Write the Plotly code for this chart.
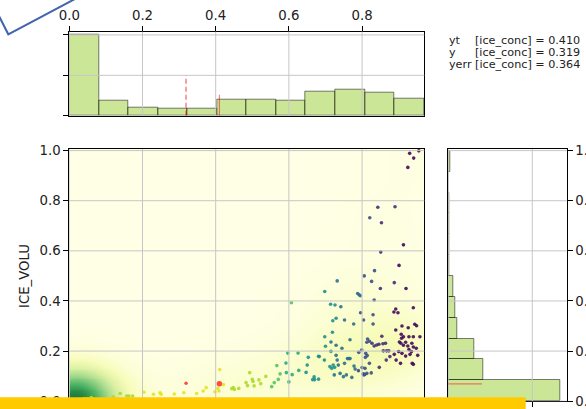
import numpy as np
import plotly.graph_objects as go

W, H = 586, 409
FONT = "DejaVu Sans"

# ---------------- data ----------------
# main scatter, grouped by the colour (ice_conc, ice_volu)
grp_lime_left_x = [0.120, 0.139, 0.157, 0.163, 0.173]
grp_lime_left_y = [0.018, 0.031, 0.021, 0.021, 0.021]

grp_yellow_x = [0.204, 0.230, 0.248, 0.251, 0.287, 0.313, 0.348, 0.366, 0.374, 0.398, 0.406, 0.409, 0.411, 0.421]
grp_yellow_y = [0.036, 0.028, 0.034, 0.028, 0.029, 0.034, 0.031, 0.041, 0.054, 0.038, 0.051, 0.041, 0.126, 0.066]

grp_lime_x = [0.444, 0.448, 0.451, 0.463, 0.483, 0.487, 0.493, 0.500, 0.502, 0.505, 0.518, 0.523, 0.537]
grp_lime_y = [0.050, 0.054, 0.047, 0.051, 0.074, 0.062, 0.114, 0.087, 0.079, 0.061, 0.085, 0.070, 0.099]

grp_green_x = [0.553, 0.560, 0.567, 0.571, 0.576, 0.607]
grp_green_y = [0.058, 0.074, 0.142, 0.087, 0.109, 0.393]

grp_tealgreen_x = [0.592, 0.593, 0.597, 0.600, 0.609, 0.625, 0.627]
grp_tealgreen_y = [0.152, 0.114, 0.192, 0.077, 0.106, 0.192, 0.123]

grp_teal_x = [0.647, 0.650, 0.653, 0.665, 0.669, 0.670, 0.681, 0.681, 0.683, 0.697, 0.698, 0.698,
              0.700, 0.719, 0.712, 0.717, 0.721, 0.725, 0.715, 0.714, 0.726, 0.720, 0.729]
grp_teal_y = [0.115, 0.144, 0.175, 0.086, 0.097, 0.086, 0.179, 0.088, 0.178, 0.164, 0.438, 0.257,
              0.219, 0.275, 0.138, 0.131, 0.144, 0.135, 0.199, 0.387, 0.384, 0.321, 0.331]

grp_blue_x = [0.742, 0.732, 0.752, 0.729, 0.732, 0.715, 0.729, 0.745, 0.735, 0.724, 0.740, 0.752,
              0.760, 0.764, 0.767, 0.757, 0.749, 0.767, 0.777, 0.778, 0.781, 0.772, 0.788, 0.792, 0.795]
grp_blue_y = [0.377, 0.480, 0.324, 0.183, 0.164, 0.236, 0.223, 0.211, 0.144, 0.105, 0.111, 0.151,
              0.170, 0.170, 0.170, 0.105, 0.098, 0.245, 0.308, 0.140, 0.128, 0.095, 0.430, 0.425, 0.421]

grp_indigo_x = [0.790, 0.800, 0.803, 0.807, 0.791, 0.799, 0.796, 0.804, 0.806, 0.810, 0.814, 0.809, 0.815,
                0.813, 0.820, 0.820, 0.808, 0.813, 0.805, 0.825, 0.821, 0.826, 0.834, 0.833, 0.830, 0.830]
grp_indigo_y = [0.122, 0.134, 0.109, 0.107, 0.195, 0.204, 0.353, 0.324, 0.500, 0.191, 0.182, 0.175, 0.248,
                0.235, 0.239, 0.151, 0.131, 0.111, 0.105, 0.113, 0.732, 0.478, 0.521, 0.404, 0.345, 0.308]

grp_purple_x = [0.843, 0.853, 0.851, 0.850, 0.854, 0.827, 0.833, 0.840, 0.846, 0.857, 0.864, 0.858,
                0.867, 0.873, 0.866, 0.876, 0.847, 0.888, 0.890]
grp_purple_y = [0.774, 0.712, 0.595, 0.450, 0.259, 0.231, 0.220, 0.224, 0.227, 0.229, 0.231, 0.201,
                0.201, 0.201, 0.164, 0.178, 0.135, 0.473, 0.776]

grp_dark_x = [0.930, 0.955, 0.941, 0.925, 0.913, 0.901, 0.920, 0.940, 0.892, 0.887, 0.898, 0.944, 0.949,
              0.909, 0.926, 0.892, 0.907, 0.908, 0.913, 0.928, 0.940, 0.958, 0.902, 0.906, 0.913, 0.919,
              0.925, 0.936, 0.940, 0.948, 0.928, 0.935, 0.900, 0.909, 0.919, 0.931, 0.952, 0.893, 0.888,
              0.937, 0.940, 0.905]
grp_dark_y = [0.989, 0.999, 0.970, 0.933, 0.624, 0.542, 0.450, 0.373, 0.368, 0.356, 0.353, 0.307, 0.301,
              0.300, 0.293, 0.284, 0.267, 0.251, 0.257, 0.257, 0.257, 0.257, 0.236, 0.231, 0.223, 0.235,
              0.220, 0.231, 0.216, 0.211, 0.206, 0.198, 0.198, 0.191, 0.180, 0.187, 0.183, 0.164, 0.187,
              0.151, 0.147, 0.151]

# dense cluster at the origin (hidden under the bottom band), with counts
origin_x = [0.000, 0.010, 0.020, 0.030, 0.040, 0.050, 0.060]
origin_y = [0.000, 0.000, 0.005, 0.005, 0.010, 0.010, 0.015]
origin_w = [150, 40, 30, 25, 20, 15, 10]

# highlighted samples: y and yt
red_x = [0.319, 0.410]
red_y = [0.072, 0.070]
red_size = [3.5, 5.5]

# marginal histograms (density)
top_hist_range = [0.0, 0.969]
top_hist_vals = [3.99, 0.73, 0.42, 0.37, 0.37, 0.77, 0.77, 0.72, 1.17, 1.31, 1.16, 0.86]
right_hist_range = [0.0, 0.999]
right_hist_vals = [6.65, 2.08, 1.53, 0.54, 0.42, 0.30, 0.07, 0.06, 0.05, 0.05, 0.0, 0.09]

yt_conc, y_conc, yerr_conc = 0.410, 0.319, 0.364
yt_volu = 0.069

x_ticks = [0.0, 0.2, 0.4, 0.6, 0.8]
y_ticks = [0.0, 0.2, 0.4, 0.6, 0.8, 1.0]
top_y_ticks = [0, 2, 4]
right_x_ticks = [0, 5]

groups = [
    (grp_lime_left_x, grp_lime_left_y, "#a8d83a"),
    (grp_yellow_x, grp_yellow_y, "#e6e31f"),
    (grp_lime_x, grp_lime_y, "#afd92e"),
    (grp_green_x, grp_green_y, "#58c463"),
    (grp_tealgreen_x, grp_tealgreen_y, "#2aaa83"),
    (grp_teal_x, grp_teal_y, "#22908c"),
    (grp_blue_x, grp_blue_y, "#2b6f8e"),
    (grp_indigo_x, grp_indigo_y, "#3b4f8a"),
    (grp_purple_x, grp_purple_y, "#472c7a"),
    (grp_dark_x, grp_dark_y, "#45095d"),
]

# ---------------- layout geometry (pixels -> paper) ----------------
def px_x(p):
    return p / W

def px_y(p):
    return 1 - p / H

X_MAX = 0.970
Y_MAX = 1.0064

dom_x_main = [px_x(69.3), px_x(424.3)]
dom_y_main = [px_y(401.2), px_y(149.0)]
dom_y_top = [px_y(115.7), px_y(31.7)]
dom_x_right = [px_x(448.3), px_x(566.7)]

fig = go.Figure()

# --- KDE background from the points ---
all_x, all_y, all_w = list(origin_x), list(origin_y), list(origin_w)
for gx_, gy_, _ in groups:
    all_x += gx_
    all_y += gy_
    all_w += [1] * len(gx_)
gx = np.linspace(0, X_MAX, 140)
gy = np.linspace(0, Y_MAX, 140)
GX, GY = np.meshgrid(gx, gy)
Z = np.zeros_like(GX)
hx, hy = 0.075, 0.085
for a, b, w in zip(all_x, all_y, all_w):
    Z += w * np.exp(-((GX - a) ** 2 / (2 * hx ** 2) + (GY - b) ** 2 / (2 * hy ** 2)))
fig.add_trace(go.Heatmap(x=gx, y=gy, z=Z, colorscale="YlGn", zmin=0, zmax=Z.max() * 1.25,
                         zsmooth="best", showscale=False, hoverinfo="skip",
                         xaxis="x", yaxis="y"))

fig.add_trace(go.Scatter(x=origin_x, y=origin_y, mode="markers",
                         marker=dict(size=3.5, color="#a8d83a"), xaxis="x", yaxis="y",
                         showlegend=False))
for gx_, gy_, col in groups:
    fig.add_trace(go.Scatter(x=gx_, y=gy_, mode="markers",
                             marker=dict(size=3.6, color=col, opacity=0.9, line=dict(width=0)),
                             xaxis="x", yaxis="y", showlegend=False))
fig.add_trace(go.Scatter(x=red_x, y=red_y, mode="markers",
                         marker=dict(size=red_size, color="#ff0000", line=dict(width=0)),
                         xaxis="x", yaxis="y", showlegend=False))

# --- marginal histograms ---
bar_fill = "rgba(154,205,50,0.5)"
bar_edge = "rgba(0,0,0,0.5)"
t_edges = np.linspace(top_hist_range[0], top_hist_range[1], len(top_hist_vals) + 1)
t_w = t_edges[1] - t_edges[0]
fig.add_trace(go.Bar(x=(t_edges[:-1] + t_edges[1:]) / 2, y=top_hist_vals, width=t_w,
                     marker=dict(color=bar_fill, line=dict(color=bar_edge, width=1)),
                     xaxis="x2", yaxis="y2", showlegend=False))
r_edges = np.linspace(right_hist_range[0], right_hist_range[1], len(right_hist_vals) + 1)
r_w = r_edges[1] - r_edges[0]
fig.add_trace(go.Bar(y=(r_edges[:-1] + r_edges[1:]) / 2, x=right_hist_vals, width=r_w,
                     orientation="h",
                     marker=dict(color=bar_fill, line=dict(color=bar_edge, width=1)),
                     xaxis="x3", yaxis="y3", showlegend=False))

# ---------------- shapes ----------------
shapes = []
GRID = dict(color="#c6c6c6", width=1)
for t in x_ticks:
    shapes.append(dict(type="line", xref="x", yref="y domain", x0=t, x1=t, y0=0, y1=1, line=GRID, layer="above"))
    shapes.append(dict(type="line", xref="x2", yref="y2 domain", x0=t, x1=t, y0=0, y1=1, line=GRID, layer="above"))
for t in y_ticks:
    shapes.append(dict(type="line", xref="x domain", yref="y", x0=0, x1=1, y0=t, y1=t, line=GRID, layer="above"))
    shapes.append(dict(type="line", xref="x3 domain", yref="y3", x0=0, x1=1, y0=t, y1=t, line=GRID, layer="above"))
for t in top_y_ticks:
    shapes.append(dict(type="line", xref="x2 domain", yref="y2", x0=0, x1=1, y0=t, y1=t, line=GRID, layer="above"))
for t in right_x_ticks:
    shapes.append(dict(type="line", xref="x3", yref="y3 domain", x0=t, x1=t, y0=0, y1=1, line=GRID, layer="above"))

# markers of y / yt in the marginals
shapes.append(dict(type="line", xref="x2", yref="y2 domain", x0=y_conc, x1=y_conc, y0=0, y1=0.48,
                   line=dict(color="rgba(255,0,0,0.5)", width=1.5, dash="5px,3px"), layer="above"))
shapes.append(dict(type="line", xref="x2", yref="y2 domain", x0=yt_conc, x1=yt_conc, y0=0, y1=0.25,
                   line=dict(color="rgba(255,0,0,0.6)", width=1), layer="above"))
shapes.append(dict(type="line", xref="x3 domain", yref="y3", x0=0, x1=0.285, y0=yt_volu, y1=yt_volu,
                   line=dict(color="rgba(255,0,0,0.6)", width=1), layer="above"))

# overlay decorations of the screenshot
shapes.append(dict(type="rect", xref="paper", yref="paper", x0=-0.01, x1=px_x(525.7), y0=-0.01, y1=px_y(397.3),
                   fillcolor="#ffcb00", line=dict(width=0), layer="above"))
shapes.append(dict(type="path", xref="paper", yref="paper",
                   path=f"M {px_x(-5)},{px_y(8.2)} L {px_x(8.3)},{px_y(34.3)} L {px_x(80)},{px_y(-3.7)}",
                   line=dict(color="#4263ad", width=2), layer="above"))

# ---------------- annotations ----------------
ann = [
    dict(text="ICE_VOLU", x=px_x(24), y=px_y(276), xref="paper", yref="paper", showarrow=False,
         textangle=-90, font=dict(family=FONT, size=13.3, color="#222"), xanchor="center", yanchor="middle"),
]
leg_font = dict(family=FONT, size=11.2, color="#222")
for i, (lab, val) in enumerate([("yt", yt_conc), ("y", y_conc)]):
    yy = px_y(40 + 12.2 * i)
    ann.append(dict(text=lab, x=px_x(447.3), y=yy, xref="paper", yref="paper", showarrow=False,
                    xanchor="left", yanchor="middle", font=leg_font))
    ann.append(dict(text=f"[ice_conc] = {val:.3f}", x=px_x(472.5), y=yy, xref="paper",
                    yref="paper", showarrow=False, xanchor="left", yanchor="middle", font=leg_font))
ann.append(dict(text=f"yerr [ice_conc] = {yerr_conc:.3f}", x=px_x(447.3), y=px_y(40 + 12.2 * 2),
                xref="paper", yref="paper", showarrow=False, xanchor="left", yanchor="middle",
                font=leg_font))

tickfont = dict(family=FONT, size=13.3, color="#222")
ax_common = dict(showgrid=False, zeroline=False, showline=True, mirror=True, linecolor="black",
                 linewidth=1, ticks="outside", ticklen=5, tickwidth=1, tickcolor="black",
                 tickfont=tickfont, automargin=False)

fig.update_layout(
    width=W, height=H, margin=dict(l=0, r=0, t=0, b=0),
    paper_bgcolor="white", plot_bgcolor="white", showlegend=False, bargap=0,
    font=dict(family=FONT),
    xaxis=dict(domain=dom_x_main, range=[0, X_MAX], anchor="y", tickvals=x_ticks,
               showticklabels=False, **ax_common),
    yaxis=dict(domain=dom_y_main, range=[0, Y_MAX], anchor="x", tickvals=y_ticks,
               ticktext=[f"{t:.1f}" for t in y_ticks], **ax_common),
    xaxis2=dict(domain=dom_x_main, range=[0, X_MAX], anchor="y2", side="top", tickvals=x_ticks,
                ticktext=[f"{t:.1f}" for t in x_ticks], **ax_common),
    yaxis2=dict(domain=dom_y_top, range=[0, 4.16], anchor="x2", tickvals=top_y_ticks,
                showticklabels=False, **ax_common),
    xaxis3=dict(domain=dom_x_right, range=[0, 7.05], anchor="y3", tickvals=right_x_ticks,
                showticklabels=False, **ax_common),
    yaxis3=dict(domain=dom_y_main, range=[0, Y_MAX], anchor="x3", side="right", tickvals=y_ticks,
                ticktext=[f"{t:.1f}" for t in y_ticks], **ax_common),
    shapes=shapes, annotations=ann,
)

fig.write_html("out.html")
